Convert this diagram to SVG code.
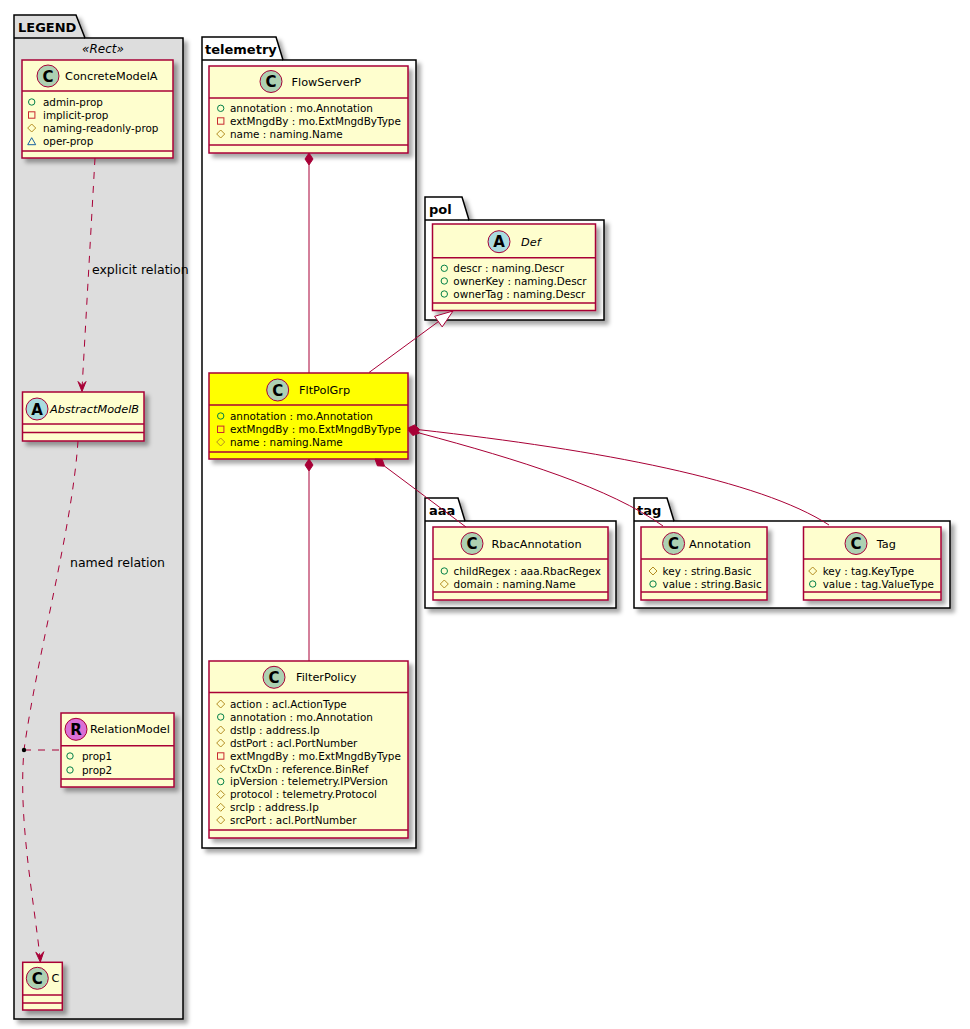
<svg xmlns="http://www.w3.org/2000/svg" xmlns:xlink="http://www.w3.org/1999/xlink" width="970" height="1029" viewBox="0 0 970 1029">
<style>
text{font-family:"DejaVu Sans","Liberation Sans",sans-serif;fill:#000}
.pkg{fill:#FFFFFF;stroke:#000;stroke-width:1.5}
.pkgl{fill:#DDDDDD;stroke:#000;stroke-width:1.5}
.ptitle{font-size:13px;font-weight:bold}
.cls{fill:#FEFECE;stroke:#A80036;stroke-width:1.5}
.hl{fill:#FFFF00;stroke:#A80036;stroke-width:1.5}
.sep{stroke:#A80036;stroke-width:1.5}
.cname{font-size:11.3px}
.it{font-style:italic}
.attr{font-size:10.4px}
.ic{stroke:#A80036;stroke-width:1}
.icl{font-size:15px;font-weight:bold}
.ln{fill:none;stroke:#A80036;stroke-width:1}
.dash{stroke-dasharray:7,7}
.dia{fill:#A80036;stroke:#A80036;stroke-width:1}
.lbl{font-size:12.5px}
</style>
<defs>
<filter id="sh" x="-10%" y="-10%" width="130%" height="130%">
<feDropShadow dx="4" dy="4" stdDeviation="2" flood-color="#000" flood-opacity="0.35"/>
</filter>
<g id="vpub"><circle r="3.2" fill="none" stroke="#038048" stroke-width="1"/></g>
<g id="vpriv"><rect x="-3.2" y="-3.2" width="6.4" height="6.4" fill="none" stroke="#C82930" stroke-width="1"/></g>
<g id="vprot"><path d="M0,-4 L4,0 L0,4 L-4,0Z" fill="none" stroke="#B38D22" stroke-width="1"/></g>
<g id="vpkg"><path d="M0,-3.8 L4,3.2 L-4,3.2Z" fill="none" stroke="#1963A0" stroke-width="1"/></g>
</defs>
<rect width="970" height="1029" fill="#FFFFFF"/>

<!-- packages -->
<g id="pkg-legend">
<path class="pkgl" filter="url(#sh)" d="M14,38 V15 H76 L85,38 H183 V1019 H14 Z"/>
<line x1="14" y1="38" x2="85" y2="38" stroke="#000" stroke-width="1.5"/>
<text class="ptitle" x="18" y="32">LEGEND</text>
<text x="103" y="53" font-size="12" font-style="italic" text-anchor="middle">«Rect»</text>
</g>
<g id="pkg-telemetry">
<path class="pkg" filter="url(#sh)" d="M202,60 V37 H276 L283,60 H416 V848 H202 Z"/>
<line x1="202" y1="60" x2="283" y2="60" stroke="#000" stroke-width="1.5"/>
<text class="ptitle" x="205" y="54">telemetry</text>
</g>
<g id="pkg-pol">
<path class="pkg" filter="url(#sh)" d="M425,220 V197 H462 L469,220 H604 V320 H425 Z"/>
<line x1="425" y1="220" x2="469" y2="220" stroke="#000" stroke-width="1.5"/>
<text class="ptitle" x="429" y="214">pol</text>
</g>
<g id="pkg-aaa">
<path class="pkg" filter="url(#sh)" d="M425,521 V498 H458 L465,521 H616 V608 H425 Z"/>
<line x1="425" y1="521" x2="465" y2="521" stroke="#000" stroke-width="1.5"/>
<text class="ptitle" x="429" y="515">aaa</text>
</g>
<g id="pkg-tag">
<path class="pkg" filter="url(#sh)" d="M634,521 V498 H667 L674,521 H950 V608 H634 Z"/>
<line x1="634" y1="521" x2="674" y2="521" stroke="#000" stroke-width="1.5"/>
<text class="ptitle" x="637" y="515">tag</text>
</g>

<!-- legend classes -->
<g id="ConcreteModelA">
<rect class="cls" filter="url(#sh)" x="22" y="60" width="151" height="98"/>
<line class="sep" x1="22" y1="91" x2="173" y2="91"/>
<line class="sep" x1="22" y1="151" x2="173" y2="151"/>
<circle class="ic" cx="48" cy="76" r="11" fill="#ADD1B2"/>
<text class="icl" x="48" y="81.5" text-anchor="middle">C</text>
<text class="cname" x="65" y="80.2">ConcreteModelA</text>
<use xlink:href="#vpub" x="31.7" y="102"/><text class="attr" x="43" y="105.8">admin-prop</text>
<use xlink:href="#vpriv" x="31.7" y="115"/><text class="attr" x="43" y="118.8">implicit-prop</text>
<use xlink:href="#vprot" x="31.7" y="128"/><text class="attr" x="43" y="131.8">naming-readonly-prop</text>
<use xlink:href="#vpkg" x="31.7" y="141.5"/><text class="attr" x="43" y="145.3">oper-prop</text>
</g>
<g id="AbstractModelB">
<rect class="cls" filter="url(#sh)" x="22.5" y="392" width="121.5" height="49"/>
<line class="sep" x1="22.5" y1="424" x2="144" y2="424"/>
<line class="sep" x1="22.5" y1="432.5" x2="144" y2="432.5"/>
<circle class="ic" cx="37" cy="409" r="11" fill="#A9DCDF"/>
<text class="icl" x="37" y="414.5" text-anchor="middle">A</text>
<text class="cname it" x="50" y="413">AbstractModelB</text>
</g>
<g id="RelationModel">
<rect class="cls" filter="url(#sh)" x="61" y="713" width="113" height="74"/>
<line class="sep" x1="61" y1="745.7" x2="174" y2="745.7"/>
<line class="sep" x1="61" y1="779" x2="174" y2="779"/>
<circle class="ic" cx="76" cy="729.3" r="11" fill="#DA70D6"/>
<text class="icl" x="76" y="734.8" text-anchor="middle">R</text>
<text class="cname" x="90" y="733.3">RelationModel</text>
<use xlink:href="#vpub" x="70" y="756"/><text class="attr" x="82" y="759.8">prop1</text>
<use xlink:href="#vpub" x="70" y="770"/><text class="attr" x="82" y="773.8">prop2</text>
</g>
<g id="C">
<rect class="cls" filter="url(#sh)" x="22.7" y="962.3" width="39.6" height="47.7"/>
<line class="sep" x1="22.7" y1="995" x2="62.3" y2="995"/>
<line class="sep" x1="22.7" y1="1003" x2="62.3" y2="1003"/>
<circle class="ic" cx="37.3" cy="978.3" r="11" fill="#ADD1B2"/>
<text class="icl" x="37.3" y="983.8" text-anchor="middle">C</text>
<text class="cname" x="51.5" y="982.3">C</text>
</g>

<!-- telemetry classes -->
<g id="FlowServerP">
<rect class="cls" filter="url(#sh)" x="209" y="66" width="199" height="87"/>
<line class="sep" x1="209" y1="98" x2="408" y2="98"/>
<line class="sep" x1="209" y1="145" x2="408" y2="145"/>
<circle class="ic" cx="271" cy="81.5" r="11" fill="#ADD1B2"/>
<text class="icl" x="271" y="87" text-anchor="middle">C</text>
<text class="cname" x="291.5" y="85.5">FlowServerP</text>
<use xlink:href="#vpub" x="220.7" y="108.3"/><text class="attr" x="230" y="112.1">annotation : mo.Annotation</text>
<use xlink:href="#vpriv" x="220.7" y="121"/><text class="attr" x="230" y="124.8">extMngdBy : mo.ExtMngdByType</text>
<use xlink:href="#vprot" x="220.7" y="134"/><text class="attr" x="230" y="137.8">name : naming.Name</text>
</g>
<g id="FltPolGrp">
<rect class="hl" filter="url(#sh)" x="209" y="373" width="199" height="86"/>
<line class="sep" x1="209" y1="405" x2="408" y2="405"/>
<line class="sep" x1="209" y1="452" x2="408" y2="452"/>
<circle class="ic" cx="277.7" cy="390" r="11" fill="#ADD1B2"/>
<text class="icl" x="277.7" y="395.5" text-anchor="middle">C</text>
<text class="cname" x="299" y="394">FltPolGrp</text>
<use xlink:href="#vpub" x="220.7" y="416"/><text class="attr" x="230" y="419.8">annotation : mo.Annotation</text>
<use xlink:href="#vpriv" x="220.7" y="429.3"/><text class="attr" x="230" y="433.1">extMngdBy : mo.ExtMngdByType</text>
<use xlink:href="#vprot" x="220.7" y="442"/><text class="attr" x="230" y="445.8">name : naming.Name</text>
</g>
<g id="FilterPolicy">
<rect class="cls" filter="url(#sh)" x="209" y="661" width="199" height="177"/>
<line class="sep" x1="209" y1="692.5" x2="408" y2="692.5"/>
<line class="sep" x1="209" y1="830" x2="408" y2="830"/>
<circle class="ic" cx="274" cy="677.3" r="11" fill="#ADD1B2"/>
<text class="icl" x="274" y="682.8" text-anchor="middle">C</text>
<text class="cname" x="296" y="681.3">FilterPolicy</text>
<use xlink:href="#vprot" x="220.7" y="704"/><text class="attr" x="230" y="707.8">action : acl.ActionType</text>
<use xlink:href="#vpub" x="220.7" y="717"/><text class="attr" x="230" y="720.8">annotation : mo.Annotation</text>
<use xlink:href="#vprot" x="220.7" y="730"/><text class="attr" x="230" y="733.8">dstIp : address.Ip</text>
<use xlink:href="#vprot" x="220.7" y="743"/><text class="attr" x="230" y="746.8">dstPort : acl.PortNumber</text>
<use xlink:href="#vpriv" x="220.7" y="756"/><text class="attr" x="230" y="759.8">extMngdBy : mo.ExtMngdByType</text>
<use xlink:href="#vprot" x="220.7" y="768.8"/><text class="attr" x="230" y="772.6">fvCtxDn : reference.BinRef</text>
<use xlink:href="#vpub" x="220.7" y="781.6"/><text class="attr" x="230" y="785.4">ipVersion : telemetry.IPVersion</text>
<use xlink:href="#vprot" x="220.7" y="794.5"/><text class="attr" x="230" y="798.3">protocol : telemetry.Protocol</text>
<use xlink:href="#vprot" x="220.7" y="807.3"/><text class="attr" x="230" y="811.1">srcIp : address.Ip</text>
<use xlink:href="#vprot" x="220.7" y="820"/><text class="attr" x="230" y="823.8">srcPort : acl.PortNumber</text>
</g>

<!-- pol -->
<g id="Def">
<rect class="cls" filter="url(#sh)" x="432.5" y="224" width="163" height="86.5"/>
<line class="sep" x1="432.5" y1="257.7" x2="595.5" y2="257.7"/>
<line class="sep" x1="432.5" y1="303" x2="595.5" y2="303"/>
<circle class="ic" cx="499" cy="241.7" r="11" fill="#A9DCDF"/>
<text class="icl" x="499" y="247.2" text-anchor="middle">A</text>
<text class="cname it" x="521" y="245.7">Def</text>
<use xlink:href="#vpub" x="444.3" y="268.3"/><text class="attr" x="453.3" y="272.1">descr : naming.Descr</text>
<use xlink:href="#vpub" x="444.3" y="281"/><text class="attr" x="453.3" y="284.8">ownerKey : naming.Descr</text>
<use xlink:href="#vpub" x="444.3" y="294"/><text class="attr" x="453.3" y="297.8">ownerTag : naming.Descr</text>
</g>

<!-- aaa -->
<g id="RbacAnnotation">
<rect class="cls" filter="url(#sh)" x="433" y="527" width="175" height="73"/>
<line class="sep" x1="433" y1="559" x2="608" y2="559"/>
<line class="sep" x1="433" y1="592" x2="608" y2="592"/>
<circle class="ic" cx="472" cy="543.5" r="11" fill="#ADD1B2"/>
<text class="icl" x="472" y="549" text-anchor="middle">C</text>
<text class="cname" x="491.5" y="547.5">RbacAnnotation</text>
<use xlink:href="#vpub" x="444.3" y="571"/><text class="attr" x="453.6" y="574.8">childRegex : aaa.RbacRegex</text>
<use xlink:href="#vprot" x="444.3" y="584"/><text class="attr" x="453.6" y="587.8">domain : naming.Name</text>
</g>

<!-- tag -->
<g id="Annotation">
<rect class="cls" filter="url(#sh)" x="641" y="527" width="126" height="73"/>
<line class="sep" x1="641" y1="559" x2="767" y2="559"/>
<line class="sep" x1="641" y1="592" x2="767" y2="592"/>
<circle class="ic" cx="673.6" cy="543.5" r="11" fill="#ADD1B2"/>
<text class="icl" x="673.6" y="549" text-anchor="middle">C</text>
<text class="cname" x="689" y="547.5">Annotation</text>
<use xlink:href="#vprot" x="653" y="571"/><text class="attr" x="662.6" y="574.8">key : string.Basic</text>
<use xlink:href="#vpub" x="653" y="584"/><text class="attr" x="662.6" y="587.8">value : string.Basic</text>
</g>
<g id="Tag">
<rect class="cls" filter="url(#sh)" x="803.5" y="527" width="137.5" height="73"/>
<line class="sep" x1="803.5" y1="559" x2="941" y2="559"/>
<line class="sep" x1="803.5" y1="592" x2="941" y2="592"/>
<circle class="ic" cx="856" cy="543.5" r="11" fill="#ADD1B2"/>
<text class="icl" x="856" y="549" text-anchor="middle">C</text>
<text class="cname" x="876.7" y="547.5">Tag</text>
<use xlink:href="#vprot" x="812.7" y="571"/><text class="attr" x="822.7" y="574.8">key : tag.KeyType</text>
<use xlink:href="#vpub" x="812.7" y="584"/><text class="attr" x="822.7" y="587.8">value : tag.ValueType</text>
</g>

<!-- connectors -->
<g id="connectors">
<path class="ln dash" d="M95,158 L82,389"/>
<path class="dia" d="M82,391.5 L78,381.5 L82,385.5 L86,381.5 Z"/>
<text class="lbl" x="92" y="274">explicit relation</text>

<path class="ln dash" d="M78,441 C 72,530 38,650 24,750 C 18,820 34,900 40,958"/>
<path class="dia" d="M40.3,962 L35.8,952.3 L39.9,956 L43.8,951.7 Z"/>
<text class="lbl" x="70" y="567">named relation</text>
<path class="ln dash" d="M24,750 L61,750"/>
<circle cx="24" cy="750" r="2.2" fill="#000"/>

<path class="ln" d="M309,165 L309,373"/>
<path class="dia" d="M309,153 L313,159 L309,165 L305,159 Z"/>
<path class="ln" d="M309,471 L309,661"/>
<path class="dia" d="M309,459 L313,465 L309,471 L305,465 Z"/>

<path class="ln" d="M369,372.5 L438.4,321.6"/>
<path d="M453,311 L442.2,326.9 L434.6,316.3 Z" fill="#FFFFFF" stroke="#A80036" stroke-width="1"/>

<path class="ln" d="M384.6,466.2 L466,527"/>
<path class="dia" d="M375,459 L377.4,465.8 L384.6,466.2 L382.2,459.4 Z"/>

<path class="ln" d="M419.9,429.8 C 600,450 760,480 829,525"/>
<path class="dia" d="M408,428 L413.4,432.9 L419.9,429.8 L414.6,424.9 Z"/>
<path class="ln" d="M419.6,433.1 C 520,460 610,488 663,526"/>
<path class="dia" d="M408,430 L412.8,435.5 L419.6,433.1 L414.8,427.7 Z"/>
</g>
</svg>
